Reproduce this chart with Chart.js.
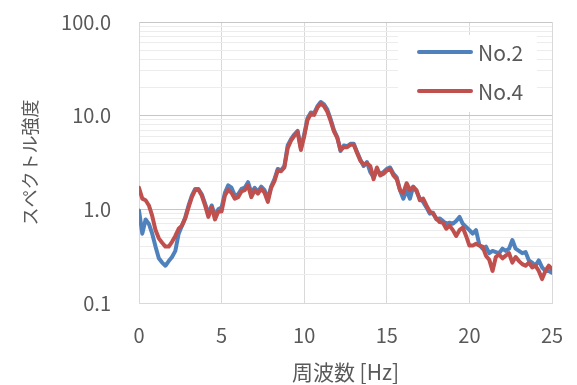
<!DOCTYPE html>
<html>
<head>
<meta charset="utf-8">
<script src="https://cdn.jsdelivr.net/npm/chart.js@4/dist/chart.umd.min.js"></script>
<style>
  html, body { margin: 0; padding: 0; background: #ffffff; }
  #wrap { width: 577px; height: 385px; position: relative; }
</style>
</head>
<body>
<div id="wrap"><canvas id="c"></canvas></div>
<script>
// Frequency grid [Hz]
const freqHz = [
  0.0, 0.2, 0.4, 0.6, 0.8, 1.0, 1.2, 1.4, 1.6, 1.8,
  2.0, 2.2, 2.4, 2.6, 2.8, 3.0, 3.2, 3.4, 3.6, 3.8,
  4.0, 4.2, 4.4, 4.6, 4.8, 5.0, 5.2, 5.4, 5.6, 5.8,
  6.0, 6.2, 6.4, 6.6, 6.8, 7.0, 7.2, 7.4, 7.6, 7.8,
  8.0, 8.2, 8.4, 8.6, 8.8, 9.0, 9.2, 9.4, 9.6, 9.8,
  10.0, 10.2, 10.4, 10.6, 10.8, 11.0, 11.2, 11.4, 11.6, 11.8,
  12.0, 12.2, 12.4, 12.6, 12.8, 13.0, 13.2, 13.4, 13.6, 13.8,
  14.0, 14.2, 14.4, 14.6, 14.8, 15.0, 15.2, 15.4, 15.6, 15.8,
  16.0, 16.2, 16.4, 16.6, 16.8, 17.0, 17.2, 17.4, 17.6, 17.8,
  18.0, 18.2, 18.4, 18.6, 18.8, 19.0, 19.2, 19.4, 19.6, 19.8,
  20.0, 20.2, 20.4, 20.6, 20.8, 21.0, 21.2, 21.4, 21.6, 21.8,
  22.0, 22.2, 22.4, 22.6, 22.8, 23.0, 23.2, 23.4, 23.6, 23.8,
  24.0, 24.2, 24.4, 24.6, 24.8, 25.0
];

// Spectral amplitude, No.2
const no2 = [
  0.97, 0.55, 0.78, 0.70, 0.55, 0.40, 0.30, 0.27, 0.25, 0.28,
  0.31, 0.36, 0.55, 0.67, 0.82, 1.10, 1.40, 1.65, 1.65, 1.45,
  1.15, 0.90, 1.10, 0.85, 1.00, 1.05, 1.50, 1.80, 1.70, 1.40,
  1.45, 1.65, 1.70, 1.95, 1.50, 1.70, 1.55, 1.75, 1.60, 1.30,
  1.75, 2.10, 2.70, 2.60, 2.90, 4.80, 5.60, 6.30, 6.90, 4.50,
  6.30, 9.40, 10.8, 10.6, 12.6, 14.0, 13.2, 11.6, 9.20, 7.00,
  5.90, 4.20, 4.80, 4.70, 5.00, 5.00, 4.10, 3.40, 2.90, 3.20,
  2.50, 2.20, 2.60, 2.40, 2.50, 2.70, 2.80, 2.40, 2.20, 1.60,
  1.30, 1.60, 1.30, 1.75, 1.55, 1.30, 1.20, 1.05, 0.90, 0.92,
  0.78, 0.80, 0.75, 0.70, 0.72, 0.70, 0.75, 0.83, 0.70, 0.65,
  0.60, 0.55, 0.60, 0.42, 0.38, 0.40, 0.34, 0.36, 0.35, 0.34,
  0.38, 0.36, 0.38, 0.47, 0.38, 0.36, 0.34, 0.35, 0.285, 0.27,
  0.25, 0.285, 0.24, 0.22, 0.22, 0.21
];

// Spectral amplitude, No.4
const no4 = [
  1.70, 1.30, 1.25, 1.10, 0.85, 0.60, 0.49, 0.44, 0.40, 0.40,
  0.45, 0.52, 0.62, 0.67, 0.80, 1.05, 1.35, 1.60, 1.62, 1.40,
  1.10, 0.83, 1.06, 0.78, 0.95, 0.95, 1.40, 1.62, 1.50, 1.30,
  1.35, 1.55, 1.60, 1.80, 1.35, 1.60, 1.47, 1.66, 1.50, 1.20,
  1.70, 2.00, 2.60, 2.55, 2.80, 4.50, 5.40, 6.10, 6.70, 4.30,
  6.00, 9.00, 10.4, 10.2, 12.2, 13.5, 12.6, 11.0, 8.80, 6.80,
  5.80, 4.30, 4.60, 4.60, 4.90, 4.90, 4.00, 3.30, 3.00, 3.10,
  2.90, 2.10, 2.80, 2.30, 2.40, 2.60, 2.70, 2.30, 2.10, 1.60,
  1.50, 1.90, 1.60, 1.73, 1.60, 1.25, 1.30, 1.10, 0.95, 0.90,
  0.80, 0.73, 0.72, 0.62, 0.67, 0.60, 0.52, 0.60, 0.64, 0.52,
  0.41, 0.41, 0.43, 0.41, 0.40, 0.32, 0.29, 0.22, 0.31, 0.33,
  0.30, 0.32, 0.34, 0.27, 0.31, 0.28, 0.26, 0.25, 0.27, 0.24,
  0.25, 0.22, 0.18, 0.22, 0.25, 0.23
];

// Axis labelling
const xTicks = [0, 5, 10, 15, 20, 25];
const yDecades = [0.1, 1, 10, 100];
const yTickLabels = ['0.1', '1.0', '10.0', '100.0'];
const xTitle = '周波数 [Hz]';
const yTitle = 'スペクトル強度';
const seriesNames = ['No.2', 'No.4'];
const seriesColors = ['#4f81bd', '#c0504d'];

const FONT = "'Noto Sans CJK JP', 'Noto Sans', sans-serif";
const TEXT = '#595959';

// Legend drawn inside the plotting area, top right
const innerLegend = {
  id: 'innerLegend',
  afterDatasetsDraw(chart) {
    const ctx = chart.ctx;
    const a = chart.chartArea;
    const x0 = a.right - 154, y0 = a.top + 13, w = 139, h = 77;
    ctx.save();
    ctx.fillStyle = '#ffffff';
    ctx.fillRect(x0, y0, w, h);
    ctx.font = '21px ' + FONT;
    ctx.textBaseline = 'middle';
    ctx.textAlign = 'left';
    chart.data.datasets.forEach((ds, i) => {
      const y = y0 + 17 + i * 39;
      ctx.strokeStyle = ds.borderColor;
      ctx.lineWidth = 4;
      ctx.lineCap = 'round';
      ctx.beginPath();
      ctx.moveTo(x0 + 21, y);
      ctx.lineTo(x0 + 73, y);
      ctx.stroke();
      ctx.fillStyle = TEXT;
      ctx.fillText(ds.label, x0 + 80, y + 1);
    });
    ctx.restore();
  }
};

const mkData = (ys) => freqHz.map((f, i) => ({ x: f, y: ys[i] }));

new Chart(document.getElementById('c'), {
  type: 'line',
  data: {
    datasets: [
      { label: seriesNames[0], data: mkData(no2), borderColor: seriesColors[0], order: 1 },
      { label: seriesNames[1], data: mkData(no4), borderColor: seriesColors[1], order: 0 }
    ]
  },
  options: {
    responsive: true,
    maintainAspectRatio: false,
    animation: false,
    devicePixelRatio: 1,
    layout: { autoPadding: false, padding: { left: 0, right: 25, top: 22, bottom: 0 } },
    elements: {
      line: { borderWidth: 4, tension: 0, borderJoinStyle: 'round', borderCapStyle: 'round' },
      point: { radius: 0 }
    },
    plugins: {
      legend: { display: false },
      tooltip: { enabled: false }
    },
    scales: {
      x: {
        type: 'linear',
        min: 0, max: 25,
        afterBuildTicks: (s) => { s.ticks = xTicks.map(v => ({ value: v })); },
        afterFit: (s) => { s.height = 82; },
        grid: { color: '#d9d9d9', lineWidth: 1, drawTicks: true, tickLength: 18, tickColor: 'rgba(0,0,0,0)' },
        border: { color: '#d9d9d9', width: 1 },
        ticks: { color: TEXT, font: { family: FONT, size: 20 }, padding: 2, maxRotation: 0 },
        title: { display: true, text: xTitle, color: TEXT, font: { family: FONT, size: 21 }, padding: { top: 0, bottom: 0 } }
      },
      y: {
        type: 'logarithmic',
        min: 0.1, max: 100,
        afterBuildTicks: (s) => {
          const t = [];
          yDecades.slice(0, -1).forEach(d => {
            for (let k = 1; k <= 9; k++) t.push({ value: +(d * k).toPrecision(3) });
          });
          t.push({ value: yDecades[yDecades.length - 1] });
          s.ticks = t;
        },
        afterFit: (s) => { s.width = 139; },
        grid: {
          drawTicks: true,
          tickLength: 26,
          tickColor: 'rgba(0,0,0,0)',
          lineWidth: 1,
          color: (c) => {
            const i = yDecades.findIndex(d => Math.abs(d - c.tick.value) < 1e-9);
            return i >= 0 ? '#c6c6c6' : '#ececec';
          }
        },
        border: { color: '#d9d9d9', width: 1 },
        ticks: {
          autoSkip: false,
          color: TEXT,
          font: { family: FONT, size: 20 },
          padding: 2,
          callback: (v) => {
            const i = yDecades.findIndex(d => Math.abs(d - v) < 1e-9);
            return i >= 0 ? yTickLabels[i] : '';
          }
        },
        title: { display: true, text: yTitle, color: TEXT, font: { family: FONT, size: 18 }, padding: { top: 19, bottom: 0 } }
      }
    }
  },
  plugins: [innerLegend]
});
</script>
</body>
</html>
